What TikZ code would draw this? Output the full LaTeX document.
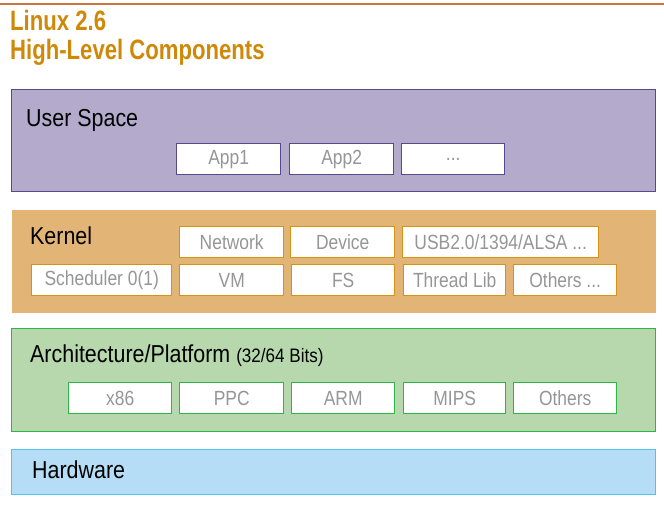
\documentclass[tikz,border=0pt]{standalone}
\usepackage{fontspec}
\setmainfont{Liberation Sans}[FakeStretch=0.86]
\newfontfamily\titlefont{Liberation Sans}[FakeStretch=0.79]
\newfontfamily\labfont{Liberation Sans}[FakeStretch=0.875]
\newfontfamily\itemfont{Liberation Sans}[FakeStretch=0.85]
\definecolor{titlec}{RGB}{208,136,8}
\definecolor{rulec}{RGB}{200,118,60}
\definecolor{usrfill}{RGB}{180,171,204}
\definecolor{usrline}{RGB}{88,72,140}
\definecolor{kerfill}{RGB}{226,181,118}
\definecolor{kerline}{RGB}{214,146,20}
\definecolor{archfill}{RGB}{182,216,172}
\definecolor{archline}{RGB}{44,182,66}
\definecolor{hwfill}{RGB}{181,221,245}
\definecolor{hwline}{RGB}{80,194,240}
\definecolor{innertext}{RGB}{150,150,150}
\tikzset{
  layer/.style={anchor=north west, inner sep=0pt, minimum width=644pt, line width=1.1pt},
  item/.style={anchor=north west, inner sep=0pt, fill=white, line width=1.4pt,
    minimum height=31pt, text=innertext, font=\itemfont\fontsize{20.5}{22}\selectfont},
  title/.style={anchor=base west, inner sep=0pt, text=titlec, font=\titlefont\fontsize{28}{30}\selectfont\bfseries},
  lab/.style={anchor=base west, inner sep=0pt, font=\labfont\fontsize{24.5}{26}\selectfont},
}
\begin{document}
\begin{tikzpicture}[x=1pt,y=-1pt]
\useasboundingbox (0,0) rectangle (664,518);
\coordinate (rl) at (0,4);
\coordinate (rr) at (664,4);
\draw[rulec, line width=1.5pt] (rl) -- (rr);
\node[title] (t1) at (10,31) {Linux 2.6};
\node[title] (t2) at (10,60) {High-Level Components};
% User space
\node[layer, draw=usrline, fill=usrfill, minimum height=102pt] (user) at (11,89) {};
\node[lab] (userl) at (26,127) {User Space};
\node[item, draw=usrline, minimum width=104pt] (app1) at (176,143) {App1};
\node[item, draw=usrline, minimum width=104pt] (app2) at (289,143) {App2};
\node[item, draw=usrline, minimum width=103pt] (appx) at (401,143) {...};
% Kernel
\node[layer, fill=kerfill, minimum height=103pt] (kernel) at (11,209) {};
\node[lab] (kernell) at (30,245) {Kernel};
\node[item, draw=kerline, minimum width=104pt] (net) at (179,226) {Network};
\node[item, draw=kerline, minimum width=104pt] (dev) at (290,226) {Device};
\node[item, draw=kerline, minimum width=196pt] (usb) at (402,226) {USB2.0/1394/ALSA ...};
\node[item, draw=kerline, minimum width=140pt] (sch) at (31,264) {Scheduler 0(1)};
\node[item, draw=kerline, minimum width=104pt] (vm) at (179,264) {VM};
\node[item, draw=kerline, minimum width=103pt] (fs) at (291,264) {FS};
\node[item, draw=kerline, minimum width=102pt] (thr) at (403,264) {Thread Lib};
\node[item, draw=kerline, minimum width=103pt] (koth) at (513,264) {Others ...};
% Architecture
\node[layer, draw=archline, fill=archfill, minimum height=103pt] (arch) at (11,328) {};
\node[lab] (archl) at (30,363) {Architecture/Platform {\fontsize{19.5}{21}\selectfont (32/64 Bits)}};
\node[item, draw=archline, minimum width=103pt] (x86) at (68,382) {x86};
\node[item, draw=archline, minimum width=104pt] (ppc) at (179,382) {PPC};
\node[item, draw=archline, minimum width=103pt] (arm) at (291,382) {ARM};
\node[item, draw=archline, minimum width=102pt] (mips) at (403,382) {MIPS};
\node[item, draw=archline, minimum width=103pt] (aoth) at (513,382) {Others};
% Hardware
\node[layer, draw=hwline, fill=hwfill, minimum height=45pt] (hw) at (11,449) {};
\node[lab] (hwl) at (32,478) {Hardware};
\end{tikzpicture}
\end{document}
